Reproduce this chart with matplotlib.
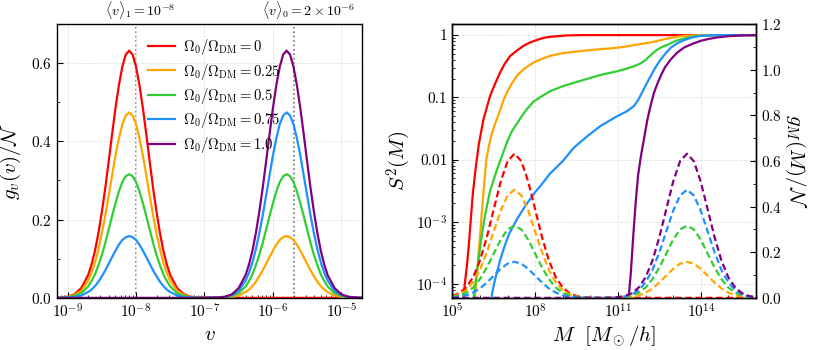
import numpy as np
import matplotlib
matplotlib.use("Agg")
import matplotlib.pyplot as plt
from matplotlib.ticker import MultipleLocator, FixedLocator, NullFormatter

plt.rcParams["font.family"] = "serif"
plt.rcParams["font.serif"] = ["cmr10", "DejaVu Serif"]
plt.rcParams["mathtext.fontset"] = "cm"
plt.rcParams["axes.formatter.use_mathtext"] = True
plt.rcParams["axes.linewidth"] = 1.0

# ---- data ----
fractions = ["0", "0.25", "0.5", "0.75", "1.0"]
colors = ["red", "orange", "limegreen", "dodgerblue", "purple"]

# left panel: log10(v) grid and g_v(v)/N per Omega_0/Omega_DM
logv = [-9.16,
        -9.10, -9.00, -8.90, -8.80, -8.70, -8.65, -8.60, -8.55, -8.50, -8.45, -8.40,
        -8.35, -8.30, -8.25, -8.20, -8.15, -8.10, -8.05, -8.00, -7.95, -7.90, -7.85,
        -7.80, -7.75, -7.70, -7.65, -7.60, -7.55, -7.50, -7.40, -7.30, -7.20, -7.10,
        -6.80, -6.70, -6.60, -6.50, -6.40, -6.35, -6.30, -6.25, -6.20, -6.15, -6.10,
        -6.05, -6.00, -5.95, -5.90, -5.85, -5.80, -5.75, -5.70, -5.65, -5.60, -5.55,
        -5.50, -5.45, -5.40, -5.35, -5.30, -5.25, -5.20, -5.10, -5.00, -4.90, -4.80,
        -4.69]
gv_red = [0,
          0.001, 0.003, 0.009, 0.025, 0.058, 0.085, 0.120, 0.165, 0.219, 0.280, 0.348,
          0.418, 0.485, 0.544, 0.591, 0.622, 0.632, 0.622, 0.591, 0.544, 0.485, 0.418,
          0.348, 0.280, 0.219, 0.165, 0.120, 0.085, 0.058, 0.025, 0.009, 0.003, 0.001,
          0, 0, 0, 0, 0, 0, 0, 0, 0, 0, 0, 0, 0, 0, 0, 0, 0,
          0, 0, 0, 0, 0, 0, 0, 0, 0, 0, 0, 0, 0, 0, 0, 0,
          0]
gv_orange = [0,
             0.001, 0.002, 0.007, 0.018, 0.044, 0.064, 0.090, 0.124, 0.164, 0.210, 0.261,
             0.313, 0.364, 0.408, 0.444, 0.466, 0.474, 0.466, 0.444, 0.408, 0.364, 0.313,
             0.261, 0.210, 0.164, 0.124, 0.090, 0.064, 0.044, 0.018, 0.007, 0.002, 0.001,
             0.000, 0.001, 0.002, 0.006, 0.015, 0.021, 0.030, 0.041, 0.055, 0.070, 0.087,
             0.104, 0.121, 0.136, 0.148, 0.155, 0.158, 0.155, 0.148, 0.136, 0.121, 0.104,
             0.087, 0.070, 0.055, 0.041, 0.030, 0.021, 0.015, 0.006, 0.002, 0.001, 0.000,
             0]
gv_green = [0,
            0.000, 0.002, 0.005, 0.012, 0.029, 0.043, 0.060, 0.083, 0.109, 0.140, 0.174,
            0.209, 0.242, 0.272, 0.296, 0.311, 0.316, 0.311, 0.296, 0.272, 0.242, 0.209,
            0.174, 0.140, 0.109, 0.083, 0.060, 0.043, 0.029, 0.012, 0.005, 0.002, 0.000,
            0.000, 0.002, 0.005, 0.012, 0.029, 0.043, 0.060, 0.083, 0.109, 0.140, 0.174,
            0.209, 0.242, 0.272, 0.296, 0.311, 0.316, 0.311, 0.296, 0.272, 0.242, 0.209,
            0.174, 0.140, 0.109, 0.083, 0.060, 0.043, 0.029, 0.012, 0.005, 0.002, 0.000,
            0]
gv_blue = [0,
           0.000, 0.001, 0.002, 0.006, 0.015, 0.021, 0.030, 0.041, 0.055, 0.070, 0.087,
           0.104, 0.121, 0.136, 0.148, 0.155, 0.158, 0.155, 0.148, 0.136, 0.121, 0.104,
           0.087, 0.070, 0.055, 0.041, 0.030, 0.021, 0.015, 0.006, 0.002, 0.001, 0.000,
           0.001, 0.002, 0.007, 0.018, 0.044, 0.064, 0.090, 0.124, 0.164, 0.210, 0.261,
           0.313, 0.364, 0.408, 0.444, 0.466, 0.474, 0.466, 0.444, 0.408, 0.364, 0.313,
           0.261, 0.210, 0.164, 0.124, 0.090, 0.064, 0.044, 0.018, 0.007, 0.002, 0.001,
           0]
gv_purple = [0,
             0, 0, 0, 0, 0, 0, 0, 0, 0, 0, 0, 0, 0, 0, 0, 0, 0,
             0, 0, 0, 0, 0, 0, 0, 0, 0, 0, 0, 0, 0, 0, 0, 0,
             0.001, 0.003, 0.009, 0.025, 0.058, 0.085, 0.120, 0.165, 0.219, 0.280, 0.348,
             0.418, 0.485, 0.544, 0.591, 0.622, 0.632, 0.622, 0.591, 0.544, 0.485, 0.418,
             0.348, 0.280, 0.219, 0.165, 0.120, 0.085, 0.058, 0.025, 0.009, 0.003, 0.001,
             0]
v_mark = [1e-8, 2e-6]
v_mark_labels = [r"$\langle v\rangle_1 = 10^{-8}$", r"$\langle v\rangle_0 = 2\times10^{-6}$"]
v_label_pos = [1.16e-8, 3.3e-6]

# right panel, dashed: g_M(M)/N on a log10(M) grid
logM_grid = [5.00, 5.25, 5.50, 5.75, 6.00, 6.25, 6.50, 6.75, 7.00, 7.25, 7.50, 7.75,
             8.00, 8.25, 8.50, 8.75, 9.00, 9.25, 9.50, 9.75, 10.00, 10.25, 10.50, 10.75,
             11.00, 11.25, 11.50, 11.75, 12.00, 12.25, 12.50, 12.75, 13.00, 13.25, 13.50,
             13.75, 14.00, 14.25, 14.50, 14.75, 15.00, 15.25, 15.50, 15.75, 16.00]
gM_red = [0.008, 0.020, 0.045, 0.090, 0.163, 0.266, 0.388, 0.509, 0.599, 0.632, 0.599,
          0.509, 0.388, 0.266, 0.163, 0.090, 0.045, 0.020, 0.008, 0.003, 0.001,
          0, 0, 0, 0, 0, 0, 0, 0, 0, 0, 0, 0, 0, 0, 0, 0, 0, 0, 0, 0, 0, 0, 0, 0]
gM_orange = [0.006, 0.015, 0.033, 0.068, 0.122, 0.200, 0.291, 0.382, 0.449, 0.474, 0.449,
             0.382, 0.291, 0.200, 0.122, 0.068, 0.033, 0.015, 0.006, 0.002, 0.001,
             0, 0, 0, 0.001, 0.002, 0.005, 0.011, 0.023, 0.041, 0.067, 0.097, 0.127,
             0.150, 0.158, 0.150, 0.127, 0.097, 0.067, 0.041, 0.023, 0.011, 0.005, 0.002,
             0.001]
gM_green = [0.004, 0.010, 0.022, 0.045, 0.082, 0.133, 0.194, 0.255, 0.300, 0.316, 0.300,
            0.255, 0.194, 0.133, 0.082, 0.045, 0.022, 0.010, 0.004, 0.001,
            0, 0, 0, 0, 0.001, 0.004, 0.010, 0.022, 0.045, 0.082, 0.133, 0.194, 0.255,
            0.300, 0.316, 0.300, 0.255, 0.194, 0.133, 0.082, 0.045, 0.022, 0.010, 0.004,
            0.001]
gM_blue = [0.002, 0.005, 0.011, 0.023, 0.041, 0.067, 0.097, 0.127, 0.150, 0.158, 0.150,
           0.127, 0.097, 0.067, 0.041, 0.023, 0.011, 0.005, 0.002, 0.001,
           0, 0, 0, 0.001, 0.002, 0.006, 0.015, 0.033, 0.068, 0.122, 0.200, 0.291, 0.382,
           0.449, 0.474, 0.449, 0.382, 0.291, 0.200, 0.122, 0.068, 0.033, 0.015, 0.006,
           0.002]
gM_purple = [0, 0, 0, 0, 0, 0, 0, 0, 0, 0, 0, 0, 0, 0, 0, 0, 0, 0, 0, 0, 0, 0, 0,
             0.001, 0.003, 0.008, 0.020, 0.045, 0.090, 0.163, 0.266, 0.388, 0.509, 0.599,
             0.632, 0.599, 0.509, 0.388, 0.266, 0.163, 0.090, 0.045, 0.020, 0.008, 0.003]

# right panel, solid: S^2(M), each curve on its own log10(M) points
logM_red = [5.40, 5.45, 5.53, 5.60, 5.67, 5.74, 5.85, 5.96, 6.13, 6.37, 6.55, 6.73,
            6.90, 7.10, 7.35, 7.58, 7.80, 8.08, 8.30, 8.55, 9.16, 9.76, 16.0]
S2_red = [5.6e-5, 1.0e-4, 2.0e-4, 4.4e-4, 1.12e-3, 2.75e-3, 7.6e-3, 0.0178, 0.0447,
          0.106, 0.166, 0.251, 0.347, 0.464, 0.569, 0.673, 0.759, 0.841, 0.902, 0.94,
          0.989, 1.0, 1.0]
logM_orange = [5.80, 5.86, 5.98, 6.06, 6.14, 6.23, 6.33, 6.43, 6.55, 6.67, 6.85, 6.98,
               7.15, 7.34, 7.60, 7.94, 8.25, 8.55, 9.00, 9.76, 10.37, 10.73, 11.20, 11.58,
               12.00, 12.19, 12.50, 12.80, 13.10, 13.40, 13.70, 14.00, 16.0]
S2_orange = [5.6e-5, 1.0e-4, 4.4e-4, 1.26e-3, 3.5e-3, 0.010, 0.017, 0.026, 0.038, 0.052,
             0.089, 0.12, 0.166, 0.222, 0.288, 0.363, 0.417, 0.465, 0.513, 0.56, 0.596,
             0.611, 0.646, 0.69, 0.741, 0.762, 0.822, 0.883, 0.933, 0.975, 0.991, 1.0, 1.0]
logM_green = [5.76, 5.82, 5.95, 6.07, 6.19, 6.37, 6.61, 6.85, 6.98, 7.15, 7.34, 7.55,
              7.70, 7.94, 8.25, 8.55, 9.00, 9.76, 10.37, 10.98, 11.30, 11.58, 11.80,
              12.00, 12.19, 12.40, 12.60, 12.80, 13.10, 13.40, 13.70, 14.00, 14.50, 15.0,
              16.0]
S2_green = [5.6e-5, 8.9e-5, 2.5e-4, 6.3e-4, 1.32e-3, 3.16e-3, 6.76e-3, 0.0132, 0.0191,
            0.0282, 0.038, 0.0525, 0.0646, 0.0851, 0.105, 0.126, 0.151, 0.191, 0.229,
            0.263, 0.288, 0.316, 0.347, 0.398, 0.479, 0.575, 0.646, 0.70, 0.813, 0.881,
            0.944, 0.977, 0.993, 1.0, 1.0]
logM_blue = [6.40, 6.44, 6.52, 6.62, 6.73, 6.87, 7.05, 7.35, 7.65, 7.97, 8.25, 8.55,
             8.99, 9.40, 9.90, 10.37, 10.98, 11.30, 11.58, 11.75, 11.90, 12.05, 12.19,
             12.37, 12.55, 12.75, 12.92, 13.15, 13.40, 13.70, 14.00, 14.50, 15.0, 16.0]
S2_blue = [5.0e-5, 7.1e-5, 1.05e-4, 1.58e-4, 2.4e-4, 3.8e-4, 6.3e-4, 1.12e-3, 1.82e-3,
           2.88e-3, 4.07e-3, 6.03e-3, 9.33e-3, 0.0155, 0.024, 0.0347, 0.0501, 0.0589,
           0.0724, 0.0933, 0.126, 0.170, 0.222, 0.309, 0.407, 0.525, 0.631, 0.741, 0.832,
           0.923, 0.975, 0.993, 1.0, 1.0]
logM_purple = [11.38, 11.42, 11.46, 11.55, 11.64, 11.73, 11.83, 11.95, 12.07, 12.19,
               12.31, 12.43, 12.55, 12.70, 12.92, 13.15, 13.40, 13.70, 14.00, 14.30,
               14.61, 14.90, 15.22, 15.60, 16.0]
S2_purple = [5.0e-5, 8.9e-5, 1.38e-4, 5.6e-4, 2.0e-3, 5.6e-3, 0.0112, 0.0224, 0.0447,
             0.0759, 0.120, 0.166, 0.222, 0.302, 0.411, 0.525, 0.634, 0.724, 0.809,
             0.871, 0.918, 0.951, 0.975, 0.991, 1.0]

S2_ticks = [1e-4, 1e-3, 1e-2, 1e-1, 1.0]
S2_ticklabels = [r"$10^{-4}$", r"$10^{-3}$", "0.01", "0.1", "1"]
M_ticks = [1e5, 1e8, 1e11, 1e14]

gv_all = [gv_red, gv_orange, gv_green, gv_blue, gv_purple]
gM_all = [gM_red, gM_orange, gM_green, gM_blue, gM_purple]
S2_all = [(logM_red, S2_red), (logM_orange, S2_orange), (logM_green, S2_green),
          (logM_blue, S2_blue), (logM_purple, S2_purple)]

fig = plt.figure(figsize=(8.14, 3.5), dpi=100)

# ---- left panel ----
ax1 = fig.add_axes([0.070, 0.149, 0.3747, 0.7824])
v = 10.0 ** np.array(logv)
for g, c, f in zip(gv_all, colors, fractions):
    ax1.plot(v, g, color=c, lw=1.6, label=r"$\Omega_0/\Omega_{\rm DM} = %s$" % f)
for xm in v_mark:
    ax1.axvline(xm, color="0.45", ls=":", lw=1.2, zorder=0.5)
for xl, t in zip(v_label_pos, v_mark_labels):
    ax1.text(xl, 1.012, t, transform=ax1.get_xaxis_transform(), ha="center",
             va="bottom", fontsize=10)
ax1.set_xscale("log")
ax1.set_xlim(7e-10, 2e-5)
ax1.set_ylim(0, 0.7)
ax1.yaxis.set_major_locator(MultipleLocator(0.2))
ax1.yaxis.set_minor_locator(MultipleLocator(0.1))
ax1.xaxis.set_minor_formatter(NullFormatter())
ax1.tick_params(which="both", direction="in", labelsize=11)
ax1.tick_params(which="major", length=4)
ax1.tick_params(which="minor", length=2)
ax1.grid(True, which="major", ls="--", color="0.88", lw=0.6)
ax1.set_xlabel(r"$v$", fontsize=15, labelpad=4)
ax1.set_ylabel(r"$g_v(v)/\mathcal{N}$", fontsize=15, labelpad=6)
ax1.legend(loc="upper left", bbox_to_anchor=(0.256, 1.0), frameon=False, fontsize=10.5,
           handlelength=1.85, handletextpad=0.55, labelspacing=0.3)

# ---- right panel ----
ax2 = fig.add_axes([0.5557, 0.149, 0.3730, 0.7820])
for (lm, s2), c in zip(S2_all, colors):
    ax2.plot(10.0 ** np.array(lm), s2, color=c, lw=1.6)
ax2.set_xscale("log")
ax2.set_yscale("log")
ax2.set_xlim(1e5, 1e16)
ax2.set_ylim(6e-5, 1.5)
ax2.set_xticks(M_ticks)
ax2.xaxis.set_minor_locator(FixedLocator([10.0 ** k for k in range(5, 17)]))
ax2.xaxis.set_minor_formatter(NullFormatter())
ax2.set_yticks(S2_ticks)
ax2.set_yticklabels(S2_ticklabels)
ax2.yaxis.set_minor_formatter(NullFormatter())
ax2.tick_params(which="both", direction="in", labelsize=11)
ax2.tick_params(which="major", length=4)
ax2.tick_params(which="minor", length=2)
ax2.grid(True, which="major", ls="--", color="0.88", lw=0.6)
ax2.set_xlabel(r"$M\ \ [M_\odot/h]$", fontsize=15, labelpad=2)
ax2.set_ylabel(r"$S^2(M)$", fontsize=15, labelpad=2)

ax3 = ax2.twinx()
M = 10.0 ** np.array(logM_grid)
for g, c in zip(gM_all, colors):
    ax3.plot(M, g, color=c, lw=1.6, ls=(0, (3.0, 1.6)))
ax3.set_ylim(0, 1.2)
ax3.yaxis.set_major_locator(MultipleLocator(0.2))
ax3.yaxis.set_minor_locator(MultipleLocator(0.1))
ax3.tick_params(which="both", direction="in", labelsize=11)
ax3.tick_params(which="major", length=4)
ax3.tick_params(which="minor", length=2)
ax3.set_ylabel(r"$g_M(M)/\mathcal{N}$", fontsize=15, rotation=270, labelpad=18)

fig.savefig("out.png", dpi=100)
